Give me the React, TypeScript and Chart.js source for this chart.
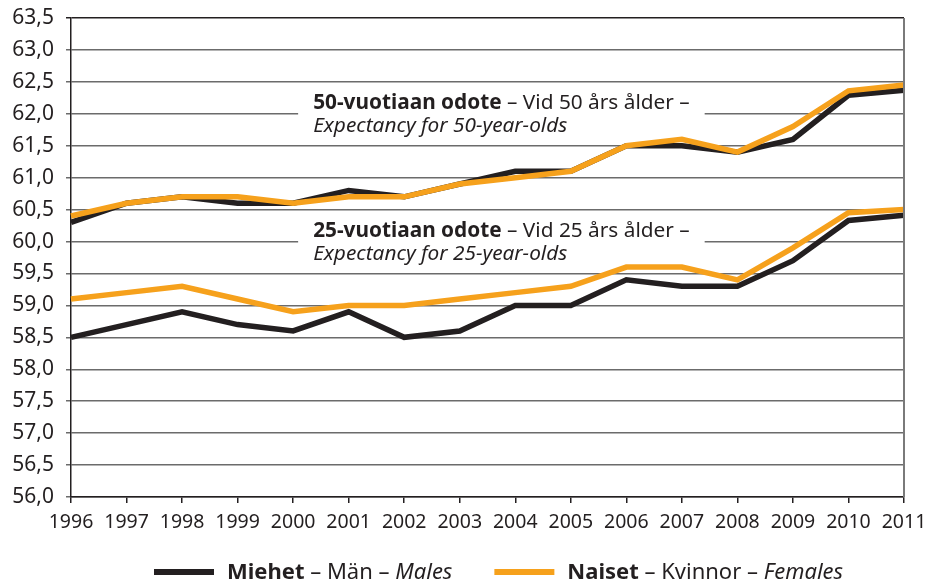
import React, { useEffect, useRef } from "react";
import { Chart, registerables } from "chart.js";

Chart.register(...registerables);

const years = ["1996", "1997", "1998", "1999", "2000", "2001", "2002", "2003", "2004", "2005", "2006", "2007", "2008", "2009", "2010", "2011"];
const males50 = [60.3, 60.6, 60.7, 60.6, 60.6, 60.8, 60.7, 60.9, 61.1, 61.1, 61.5, 61.5, 61.4, 61.6, 62.29, 62.37];
const females50 = [60.4, 60.6, 60.7, 60.7, 60.6, 60.7, 60.7, 60.9, 61.0, 61.1, 61.5, 61.6, 61.4, 61.8, 62.36, 62.45];
const males25 = [58.5, 58.7, 58.9, 58.7, 58.6, 58.9, 58.5, 58.6, 59.0, 59.0, 59.4, 59.3, 59.3, 59.7, 60.33, 60.41];
const females25 = [59.1, 59.2, 59.3, 59.1, 58.9, 59.0, 59.0, 59.1, 59.2, 59.3, 59.6, 59.6, 59.4, 59.9, 60.45, 60.5];

const yMin = 56;
const yMax = 63.5;
const yStep = 0.5;

const maleLabel = [
  { text: "Miehet", weight: "bold" },
  { text: " – Män – " },
  { text: "Males", style: "italic" },
];
const femaleLabel = [
  { text: "Naiset", weight: "bold" },
  { text: " – Kvinnor – " },
  { text: "Females", style: "italic" },
];

const note50Line1 = [
  { text: "50-vuotiaan odote", weight: "bold" },
  { text: " – Vid 50 års ålder –" },
];
const note50Line2 = [{ text: "Expectancy for 50-year-olds", style: "italic" }];
const note25Line1 = [
  { text: "25-vuotiaan odote", weight: "bold" },
  { text: " – Vid 25 års ålder –" },
];
const note25Line2 = [{ text: "Expectancy for 25-year-olds", style: "italic" }];

const BLACK = "#231f20";
const ORANGE = "#f6a11c";
const FONT = "'Noto Sans', 'Open Sans', sans-serif";

type Seg = { text: string; weight?: string; style?: string };

function setFont(ctx: CanvasRenderingContext2D, s: Seg, size: number) {
  ctx.font = `${s.style || "normal"} ${s.weight || "normal"} ${size}px ${FONT}`;
}

function measureRich(ctx: CanvasRenderingContext2D, segs: Seg[], size: number) {
  let w = 0;
  for (const s of segs) {
    setFont(ctx, s, size);
    w += ctx.measureText(s.text).width;
  }
  return w;
}

function drawRich(ctx: CanvasRenderingContext2D, segs: Seg[], x: number, y: number, size: number) {
  let cx = x;
  for (const s of segs) {
    setFont(ctx, s, size);
    ctx.fillText(s.text, cx, y);
    cx += ctx.measureText(s.text).width;
  }
  return cx - x;
}

const notes = [
  { value: 62.0, startIndex: 4, line1: note50Line1, line2: note50Line2 },
  { value: 60.0, startIndex: 4, line1: note25Line1, line2: note25Line2 },
];

const notesPlugin = {
  id: "notes",
  beforeDatasetsDraw(chart: any) {
    const ctx: CanvasRenderingContext2D = chart.ctx;
    const xs = chart.scales.x;
    const ys = chart.scales.y;
    const size = 20.8;
    ctx.save();
    for (const n of notes) {
      const left = xs.getPixelForValue(n.startIndex) + 5;
      const w = Math.max(measureRich(ctx, n.line1, size), measureRich(ctx, n.line2, size));
      const top = ys.getPixelForValue(n.value + 0.4);
      const bottom = ys.getPixelForValue(n.value - 0.4);
      ctx.fillStyle = "#ffffff";
      ctx.fillRect(left, top, w + 30, bottom - top);
      const gy = ys.getPixelForValue(n.value);
      ctx.fillStyle = BLACK;
      ctx.textBaseline = "alphabetic";
      ctx.textAlign = "left";
      drawRich(ctx, n.line1, left + 15, gy - 5, size);
      drawRich(ctx, n.line2, left + 15, gy + 18, size);
    }
    ctx.restore();
  },
  afterDraw(chart: any) {
    const ctx: CanvasRenderingContext2D = chart.ctx;
    const area = chart.chartArea;
    ctx.save();
    // right frame line
    ctx.strokeStyle = "#7a7a7a";
    ctx.lineWidth = 2;
    ctx.beginPath();
    ctx.moveTo(area.right, area.top);
    ctx.lineTo(area.right, area.bottom);
    ctx.stroke();

    // legend
    const size = 22;
    const items = [
      { color: BLACK, segs: maleLabel },
      { color: ORANGE, segs: femaleLabel },
    ];
    const swatch = 60;
    const gap = 13;
    const spacing = 42;
    const widths = items.map((it) => measureRich(ctx, it.segs, size));
    let x = area.left + 83;
    const y = 572;
    ctx.textBaseline = "middle";
    ctx.textAlign = "left";
    items.forEach((it, i) => {
      ctx.strokeStyle = it.color;
      ctx.lineWidth = 6;
      ctx.beginPath();
      ctx.moveTo(x, y);
      ctx.lineTo(x + swatch, y);
      ctx.stroke();
      x += swatch + gap;
      ctx.fillStyle = BLACK;
      drawRich(ctx, it.segs, x, y + 1, size);
      x += widths[i] + spacing;
    });
    ctx.restore();
  },
};

export default function App() {
  const ref = useRef<HTMLCanvasElement | null>(null);

  useEffect(() => {
    if (!ref.current) return;
    const chart = new Chart(ref.current, {
      type: "line",
      data: {
        labels: years,
        datasets: [
          { label: "Naiset 50", data: females50, borderColor: ORANGE, borderWidth: 5.5, pointRadius: 0, tension: 0, fill: false },
          { label: "Naiset 25", data: females25, borderColor: ORANGE, borderWidth: 5.5, pointRadius: 0, tension: 0, fill: false },
          { label: "Miehet 50", data: males50, borderColor: BLACK, borderWidth: 5.5, pointRadius: 0, tension: 0, fill: false },
          { label: "Miehet 25", data: males25, borderColor: BLACK, borderWidth: 5.5, pointRadius: 0, tension: 0, fill: false },
        ],
      },
      options: {
        responsive: false,
        animation: false,
        layout: { padding: { left: 0, right: 23, top: 18, bottom: 0 } },
        plugins: {
          legend: { display: false },
          tooltip: { enabled: false },
          title: { display: false },
        },
        scales: {
          x: {
            offset: false,
            grid: {
              drawOnChartArea: false,
              drawTicks: true,
              tickLength: 6,
              color: BLACK,
              lineWidth: 1.5,
            },
            border: { color: BLACK, width: 1.5 },
            ticks: {
              color: BLACK,
              font: { family: FONT, size: 19.5 },
              maxRotation: 0,
              autoSkip: false,
              padding: 8,
            },
            afterFit: (s: any) => {
              s.height = 89;
              s.paddingLeft = 0;
              s.paddingRight = 0;
              s.paddingTop = 0;
              s.paddingBottom = 0;
            },
          },
          y: {
            min: yMin,
            max: yMax,
            grid: {
              color: (c: any) => (c.tick && c.tick.value === yMax ? BLACK : "#6b6b6b"),
              lineWidth: 1.5,
              tickLength: 5,
              drawTicks: true,
            },
            border: { color: BLACK, width: 1.5 },
            ticks: {
              stepSize: yStep,
              color: BLACK,
              font: { family: FONT, size: 21 },
              padding: 12,
              callback: (v: any) => Number(v).toFixed(1).replace(".", ","),
            },
            afterFit: (s: any) => {
              s.width = 71;
              s.paddingLeft = 0;
              s.paddingRight = 0;
              s.paddingTop = 0;
              s.paddingBottom = 0;
            },
          },
        },
      },
      plugins: [notesPlugin],
    } as any);
    return () => chart.destroy();
  }, []);

  return (
    <div style={{ position: "absolute", left: 0, top: 0, width: 927, height: 586, background: "#fff" }}>
      <canvas ref={ref} width={927} height={586} style={{ display: "block" }} />
    </div>
  );
}
